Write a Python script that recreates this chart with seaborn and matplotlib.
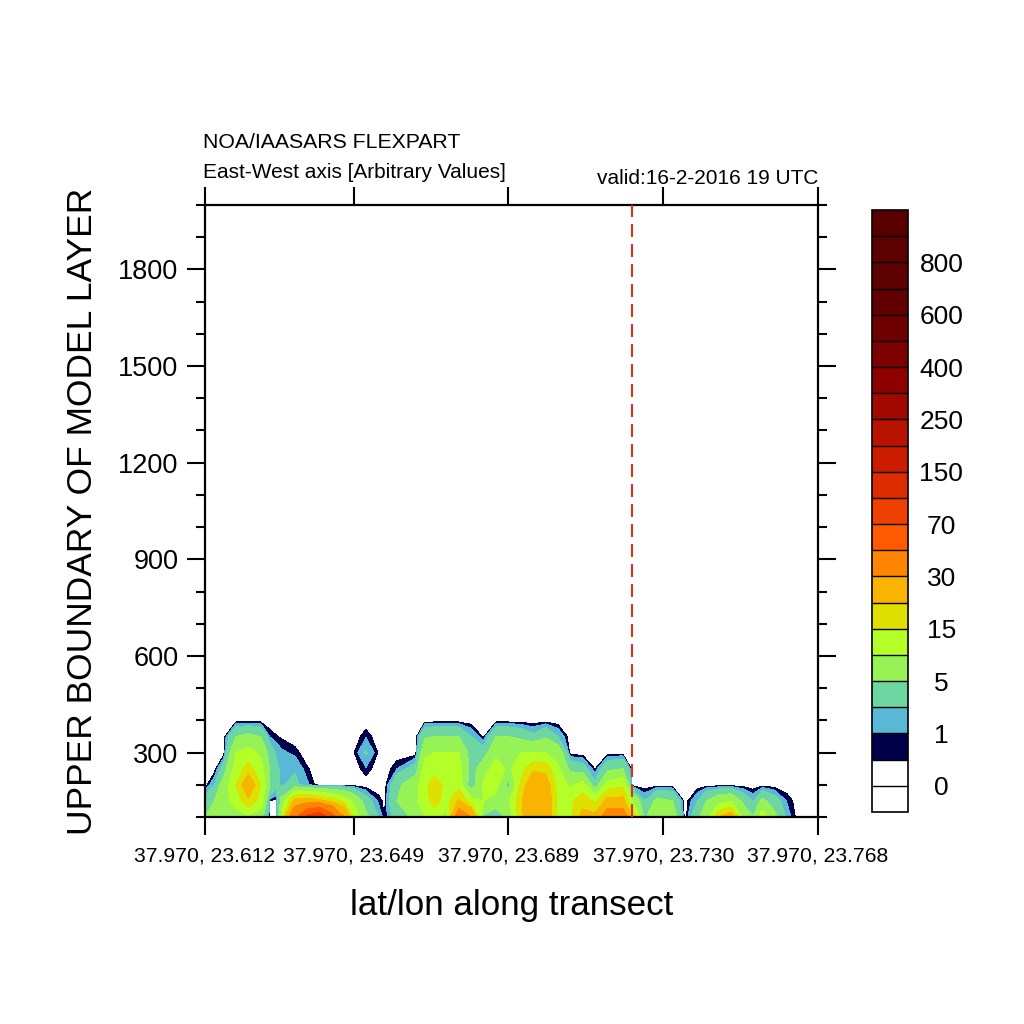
import numpy as np
import pandas as pd
import matplotlib
matplotlib.use("Agg")
import matplotlib.pyplot as plt
import seaborn as sns
from matplotlib.colors import ListedColormap, BoundaryNorm
from matplotlib.ticker import FixedLocator, MultipleLocator, NullLocator

sns.set_theme(style="white")
plt.rcParams['font.family'] = ['Liberation Sans', 'DejaVu Sans']
plt.rcParams['text.color'] = 'black'
plt.rcParams['axes.labelcolor'] = 'black'
plt.rcParams['xtick.color'] = 'black'
plt.rcParams['ytick.color'] = 'black'

# ---------------- data ----------------
# transect point index (0..99) of each data column
X_IDX = [0, 1.5, 3, 5, 7, 9, 10.5, 11.5, 12.3, 14.5, 16.5, 18.5, 20.5, 22.5, 24, 26,
         28, 29, 31, 34, 35.5, 37, 39, 41, 43, 45, 47, 49, 51, 53, 55, 57, 59, 61,
         63, 65, 67.5, 69, 71, 73, 75.5, 77.5, 79.5, 81, 83, 85, 87, 88.5, 90, 92,
         94, 96, 99]
# upper boundary of model layers (m)
Y_LEV = [100, 150, 200, 250, 300, 350, 400]

Z100 = [5, 6, 7, 8, 9, 7, 0.1, 0.1, 10, 45, 75, 90, 60, 30, 14, 6,
        2, 0.45, 3, 6, 10, 12, 8, 40, 30, 4, 1.5, 7, 18, 28, 27, 13, 14, 22,
        22, 38, 40, 20, 4, 10, 8, 0, 4, 8, 20, 25, 8, 5, 13, 6,
        1.5, 0, 0]
Z150 = [3, 5, 8, 12, 19, 13, 0.4, 0.3, 6, 22, 24, 22, 18, 14, 9, 3,
        0.8, 0.3, 5, 9, 13, 17, 13, 21, 12, 10, 8, 9, 19, 28, 26, 14, 14, 18,
        14, 22, 22, 10, 2, 6, 5, 0, 2, 5, 8, 9, 4, 1.8, 6, 3,
        0.9, 0, 0]
Z200 = [0, 2, 7, 15, 26, 15, 5, 2.5, 1.8, 2.5, 1.2, 0, 0, 0, 0, 0,
        0, 0, 4, 8, 14, 17, 14, 13, 2, 11, 12, 3, 16, 26, 24, 13, 9, 12,
        2.5, 12, 14, 0, 0, 0, 0, 0, 0, 0, 0, 0, 0, 0, 0, 0,
        0, 0, 0]
Z250 = [0, 0, 3, 12, 17, 12, 4.5, 2.5, 1.6, 1.8, 0.6, 0, 0, 0, 0, 0.9,
        0, 0, 1, 3, 12, 13, 13, 12, 3, 8, 12, 9, 13, 19, 18, 11, 4, 3,
        0.4, 4, 5, 0, 0, 0, 0, 0, 0, 0, 0, 0, 0, 0, 0, 0,
        0, 0, 0]
Z300 = [0, 0, 0, 10, 12, 9, 3.5, 1.8, 1.2, 0.8, 0, 0, 0, 0, 0.4, 2.2,
        0.4, 0, 0, 0, 9, 10, 10, 10, 3, 3, 9, 10, 10, 10, 10, 8, 0, 0,
        0, 0, 0, 0, 0, 0, 0, 0, 0, 0, 0, 0, 0, 0, 0, 0,
        0, 0, 0]
Z350 = [0, 0, 0, 5, 6, 5, 0.9, 0.55, 0.4, 0, 0, 0, 0, 0, 0, 0.9,
        0, 0, 0, 0, 4.5, 5, 5, 5, 2, 0.3, 5, 5, 4, 2.5, 4.5, 2, 0, 0,
        0, 0, 0, 0, 0, 0, 0, 0, 0, 0, 0, 0, 0, 0, 0, 0,
        0, 0, 0]
Z400 = [0, 0, 0, 0, 0, 0, 0, 0, 0, 0, 0, 0, 0, 0, 0, 0,
        0, 0, 0, 0, 0, 0, 0, 0, 0, 0, 0, 0, 0, 0, 0, 0, 0, 0,
        0, 0, 0, 0, 0, 0, 0, 0, 0, 0, 0, 0, 0, 0, 0, 0,
        0, 0, 0]

LEVELS = [0, 0.5, 1, 2, 5, 10, 15, 20, 30, 50, 70, 100, 150, 200, 250, 300,
          400, 500, 600, 700, 800, 900]
CBAR_LABELS = [0, 1, 5, 15, 30, 70, 150, 250, 400, 600, 800]
FILL_COLORS = ['#ffffff', '#00004a', '#58b8d6', '#6ed6a0', '#96f255', '#b4ff28',
               '#e0e000', '#f8b400', '#ff8400', '#ff5a00', '#ee4000', '#dc2c00',
               '#cc1c00', '#b81200', '#a20800', '#8e0000', '#7c0000', '#6e0000',
               '#620000', '#5e0000', '#5c0000']
UNDER_COLOR = '#ffffff'
OVER_COLOR = '#580000'

X_TICKS = [0, 24, 49, 74, 99]
X_TICKLABELS = ['37.970, 23.612', '37.970, 23.649', '37.970, 23.689',
                '37.970, 23.730', '37.970, 23.768']
Y_TICKS = [300, 600, 900, 1200, 1500, 1800]
MARK_IDX = 69

TITLE = 'NOA/IAASARS FLEXPART'
SUBTITLE = 'East-West axis [Arbitrary Values]'
VALID = 'valid:16-2-2016 19 UTC'
XLABEL = 'lat/lon along transect'
YLABEL = 'UPPER BOUNDARY OF MODEL LAYER'

# ---------------- plot ----------------
Z = np.array([Z100, Z150, Z200, Z250, Z300, Z350, Z400], dtype=float)

cmap = ListedColormap(FILL_COLORS)
cmap.set_under(UNDER_COLOR)
cmap.set_over(OVER_COLOR)
norm = BoundaryNorm(LEVELS, ncolors=len(FILL_COLORS))

W = 1024
fig = plt.figure(figsize=(10.24, 10.24), dpi=100)
fig.patch.set_facecolor('white')
ax = fig.add_axes([205 / W, 1 - 817 / W, 613 / W, 612 / W])
ax.set_facecolor('white')

cf = ax.contourf(X_IDX, Y_LEV, Z, levels=LEVELS, cmap=cmap, norm=norm,
                 extend='both', antialiased=False)

ax.axvline(MARK_IDX, color='#e0301a', lw=1.5, ls=(0, (6.2, 3.4)), zorder=5)

ax.set_xlim(0, 99)
ax.set_ylim(100, 2000)
ax.set_xticks(X_TICKS)
ax.set_xticklabels(X_TICKLABELS)
ax.xaxis.set_minor_locator(NullLocator())
ax.yaxis.set_major_locator(FixedLocator(Y_TICKS))
ax.yaxis.set_minor_locator(MultipleLocator(100))

for s in ax.spines.values():
    s.set_linewidth(1.6)
    s.set_color('black')
ax.tick_params(axis='both', which='major', direction='out', length=13, width=1.5,
               color='black', top=True, right=True, bottom=True, left=True)
ax.tick_params(axis='y', which='minor', direction='out', length=6.5, width=1.5,
               color='black', left=True, right=True)
ax.tick_params(axis='x', labelsize=15.2, pad=8, labelcolor='black')
ax.tick_params(axis='y', labelsize=19.5, pad=6, labelcolor='black')

ax.set_xlabel(XLABEL, fontsize=25.2, color='black')
ax.xaxis.set_label_coords(0.5, (817 - 905) / 612)
ax.xaxis.label.set_va('center')
ax.set_ylabel(YLABEL, fontsize=25.5, color='black')
ax.yaxis.set_label_coords((83 - 205) / 613, 0.5)
ax.yaxis.label.set_va('center')
ax.yaxis.label.set_ha('center')

fig.text(203 / W, 1 - 142 / W, TITLE, ha='left', va='center', fontsize=15.3, color='black')
fig.text(203 / W, 1 - 173 / W, SUBTITLE, ha='left', va='center', fontsize=15.0, color='black')
fig.text(818 / W, 1 - 178 / W, VALID, ha='right', va='center', fontsize=15.0, color='black')

# colorbar
cax = fig.add_axes([872 / W, 1 - 812 / W, 36 / W, 602 / W])
cb = fig.colorbar(cf, cax=cax, extend='both', extendrect=True, extendfrac='auto',
                  drawedges=True, ticks=CBAR_LABELS)
cb.minorticks_off()
cb.outline.set_linewidth(1.2)
cb.outline.set_edgecolor('black')
cb.dividers.set_color('black')
cb.dividers.set_linewidth(1.0)
cb.ax.tick_params(which='both', length=0, width=0, pad=24, labelsize=19,
                  labelcolor='black')
cb.ax.set_yticklabels([str(v) for v in CBAR_LABELS])
for t in cb.ax.get_yticklabels():
    t.set_ha('center')

fig.savefig('out.png', dpi=100, facecolor='white')
